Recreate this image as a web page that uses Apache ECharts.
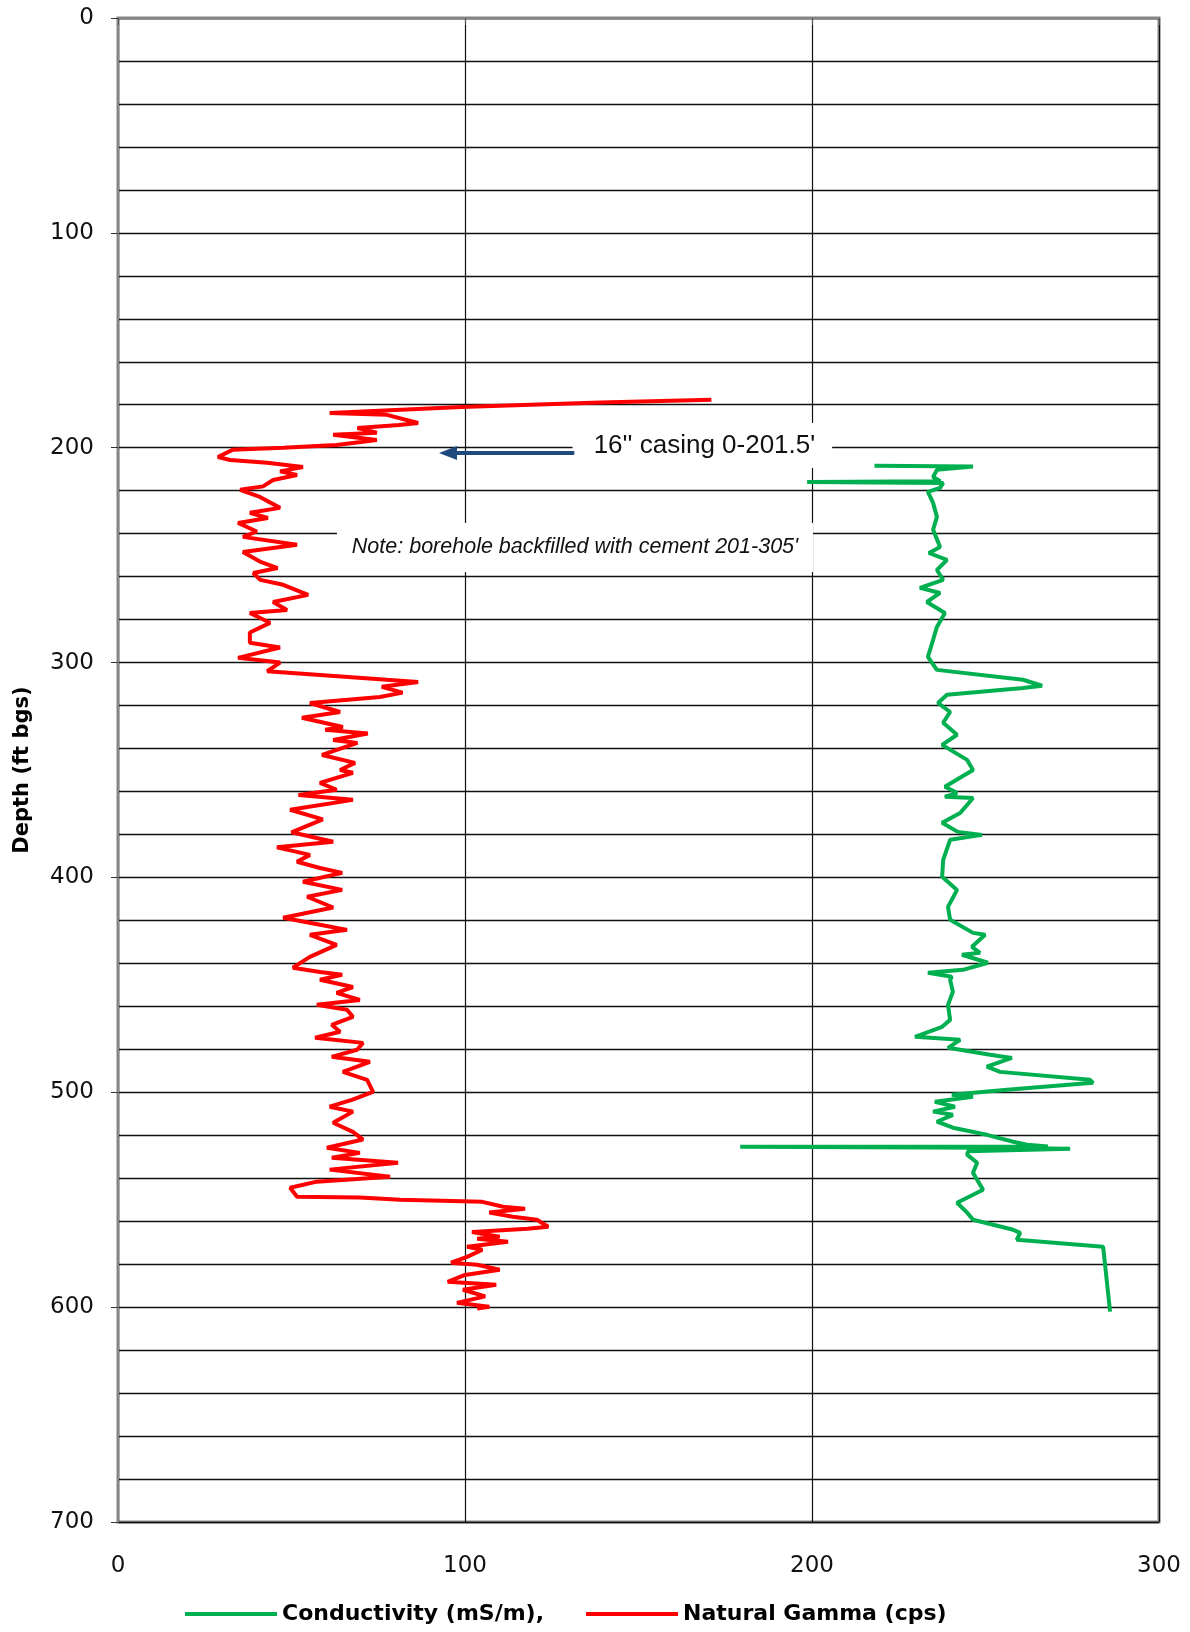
<!DOCTYPE html>
<html><head><meta charset="utf-8">
<script src="https://cdn.jsdelivr.net/npm/echarts@6/dist/echarts.min.js"></script>
<style>html,body{margin:0;padding:0;background:#fff}#c{width:1190px;height:1632px}</style>
</head><body><div id="c"></div>
<script>
// ---- data ----
const seriesNames = ['Conductivity (mS/m),', 'Natural Gamma (cps)'];
const xTicks = [0, 100, 200, 300];
const yTicks = [0, 100, 200, 300, 400, 500, 600, 700];

const gammaDepth = [177.7,179,181,183.8,184.7,188.5,189.4,190.8,193,194,196.4,198.7,200,201,204.3,205.7,207,209,211,212.7,215,218,219.6,222.9,228,230.3,232.7,235,239,241.5,245.2,248.5,253,256,258.3,261.5,263.8,268.5,271.8,275.5,276.9,281.5,286,290.8,293,297.8,300,304,308,309,311.3,314,316,318.8,323,325.7,330,331.3,333,336,337.4,343,346.7,350,351.3,356,359.2,361.6,363.9,368.5,373,379,383.4,386,389.5,392.7,395.6,397.9,402,405.8,409,414,418.8,422,424.4,426.7,431.4,437,442,444,445.3,447.6,451,453.7,457,459.3,461.6,464.9,468.6,471.8,474.6,477,480.2,483.5,485.8,490.5,494.2,499.8,503.5,506.7,509,514.2,518.4,522,525.8,528.2,530.5,532.8,536,539.3,541.6,544.4,548.6,549,550,551,553.3,554.2,556,557.9,559.3,562.6,563.5,565,567.2,568.2,569.6,571.9,573.3,576.6,579.3,580.3,582.6,585,588.2,589.6,591.9,595,598,599.8,600.7];
const gammaValue = [171,139,99,61,77.5,86.5,81,69,74.6,62,74.6,63,47.6,33,28.8,32.3,43,53.3,46.7,51.6,44.7,41.8,35.2,40.9,46.7,38,43.2,34.6,40,36,51.6,36,40.9,46,39,41,47.6,54.8,44.7,48.7,38,43.8,38,38,46.7,34.6,46.7,43,77.5,86.5,76,82,75.5,55.3,64,53,64.8,59.7,72,62,69,58.8,68.3,64,67.7,58.2,63,52,67.7,49.6,59,50,62,45.8,55.3,51.6,58.2,64.6,53.3,64.6,54.5,62,47.6,58.2,66,55.3,63,55.3,50.4,58.2,64.6,58.2,67.7,63,69.7,57.3,66,67.7,61.6,64,56.8,70.6,68.9,61.6,72.6,64.8,71.8,73.5,67.4,61,67.7,62,67.7,70.6,60.2,69.7,61.6,80.7,61,78.4,57.3,49.6,51.6,69.7,81.3,105,111,117.3,107,113.8,120.7,124,118,102,110,103.5,112.4,100.6,105,100.6,96,103.5,110,100,95,109,99.4,105.8,97.7,107,103.5];

const condDepth = [208.4,208.8,210.3,213.6,215.6,215.9,216.4,218.7,220.6,225.7,232.2,238.2,246.2,249,252.2,256.9,261.5,265.2,267.6,271.8,276.9,283.4,289.4,297.3,303.4,308,310.8,311.8,315,318.8,323,328,333.6,338.3,345.3,350,357.8,360.6,362.5,363,370,374.6,378.8,380.2,382.5,391.8,399.7,405.8,413.7,419.7,425.8,426.7,432.3,435.1,436,439.7,443,444.4,446.2,447.6,453.2,459.3,466.3,469.5,474.2,475.6,479.3,482.5,484,488.1,490.5,494.2,495.6,498.8,501.2,502.1,504.4,506.7,509,510.5,513.7,516.5,519.8,523,524.4,525.2,525.4,525.8,526.3,527.5,529,532.8,537.5,545.4,551.4,556,559.3,564,565.4,568.6,571.9,602.1];
const condValue = [218,246.4,236,234.9,237,198.6,237.8,236.9,233.4,234.9,236,234.9,236.9,233.7,238.9,236,237.8,231.1,236.9,233.1,238.3,236,234.9,233.4,236,260.8,266.3,260.8,238.9,236.3,239.8,237.8,241.8,237.5,244.7,246.4,238.3,241.8,238.3,246.4,242.7,237.5,242,249,239.8,237.8,237.5,241.8,239.2,239.8,246.4,249.9,246.1,248.4,243.2,250.7,243.5,233.4,240.3,239.8,240.6,239.2,239.8,237.5,229.7,242.7,239.2,251.3,257.6,250.4,254.2,280.1,281,256.2,240.3,246.4,235.4,241.2,234.9,240.6,236,240.6,250.4,258,262,268,179.3,250,274.4,245,244.7,247.6,246.4,249.3,241.8,244.7,246.4,258,260,259,283.9,285.9];

const casingNote = "16'' casing 0-201.5'";
const cementNote = "Note: borehole backfilled with cement 201-305'";

// ---- chart ----
const chart = echarts.init(document.getElementById('c'), null, {renderer: 'canvas'});
const pair = (ds, vs) => ds.map((d, i) => [vs[i], d]);
const lineCol = '#111';
const axisGray = '#868686';

chart.setOption({
  animation: false,
  backgroundColor: '#fff',
  grid: {left: 118, right: 31, top: 18, bottom: 110, show: true, borderColor: axisGray, borderWidth: 3},
  xAxis: {
    type: 'value', min: xTicks[0], max: xTicks[xTicks.length - 1], interval: 100,
    axisLine: {show: true, lineStyle: {color: axisGray, width: 2}},
    axisTick: {show: true, length: 7, lineStyle: {color: '#555'}},
    axisLabel: {margin: 33, fontFamily: 'DejaVu Sans', fontSize: 23, color: '#111'},
    splitLine: {show: true, lineStyle: {color: lineCol, width: 1.2}}
  },
  yAxis: {
    type: 'value', inverse: true, min: yTicks[0], max: yTicks[yTicks.length - 1], interval: 100,
    name: 'Depth (ft bgs)', nameLocation: 'middle', nameGap: 85, nameRotate: 90,
    nameTextStyle: {fontFamily: 'DejaVu Sans', fontWeight: 'bold', fontSize: 21, color: '#000'},
    axisLine: {show: true, lineStyle: {color: axisGray, width: 2}},
    axisTick: {show: true, length: 7, lineStyle: {color: '#333'}},
    axisLabel: {margin: 24, fontFamily: 'DejaVu Sans', fontSize: 23, color: '#111'},
    splitLine: {show: true, lineStyle: {color: lineCol, width: 1.3}},
    minorTick: {show: false, splitNumber: 5},
    minorSplitLine: {show: true, lineStyle: {color: lineCol, width: 1.3}}
  },
  legend: {
    left: 185, top: 1603, padding: 0, itemGap: 42, itemWidth: 92, itemHeight: 4, icon: 'rect',
    data: seriesNames,
    textStyle: {fontFamily: 'DejaVu Sans', fontWeight: 'bold', fontSize: 22, color: '#000'}
  },
  series: [
    {name: seriesNames[0], type: 'line', data: pair(condDepth, condValue), showSymbol: false,
     lineStyle: {color: '#00B050', width: 4}, itemStyle: {color: '#00B050'}, z: 3},
    {name: seriesNames[1], type: 'line', data: pair(gammaDepth, gammaValue), showSymbol: false,
     lineStyle: {color: '#FF0000', width: 4}, itemStyle: {color: '#FF0000'}, z: 3}
  ]
});

// ---- annotations anchored in data coordinates ----
const px = (v, d) => chart.convertToPixel({xAxisIndex: 0, yAxisIndex: 0}, [v, d]);
const cb1 = px(131, 188.5), cb2 = px(205.8, 209.4), ct = px(169, 199.2);
const nb1 = px(63.1, 235), nb2 = px(200.3, 257.8), nt = px(131.7, 246.2);
const aS = px(131.5, 202.5), aE = px(92.5, 202.5);
const navy = '#1F4A7D';
chart.setOption({
  graphic: [
    {type: 'rect', z: 10, shape: {x: cb1[0], y: cb1[1], width: cb2[0] - cb1[0], height: cb2[1] - cb1[1]}, style: {fill: '#fff'}},
    {type: 'text', z: 11, style: {text: casingNote, x: ct[0], y: ct[1], font: '26px "Liberation Sans", Arial, sans-serif', fill: '#111', align: 'center', verticalAlign: 'middle'}},
    {type: 'rect', z: 10, shape: {x: nb1[0], y: nb1[1], width: nb2[0] - nb1[0], height: nb2[1] - nb1[1]}, style: {fill: '#fff'}},
    {type: 'text', z: 11, style: {text: cementNote, x: nt[0], y: nt[1], font: 'italic 21.5px "Liberation Sans", Arial, sans-serif', fill: '#111', align: 'center', verticalAlign: 'middle'}},
    {type: 'line', z: 11, shape: {x1: aS[0], y1: aS[1], x2: aE[0] + 16, y2: aE[1]}, style: {stroke: navy, lineWidth: 4}},
    {type: 'polygon', z: 11, shape: {points: [[aE[0], aE[1]], [aE[0] + 18, aE[1] - 7], [aE[0] + 18, aE[1] + 7]]}, style: {fill: navy}}
  ]
});
</script>
</body></html>
